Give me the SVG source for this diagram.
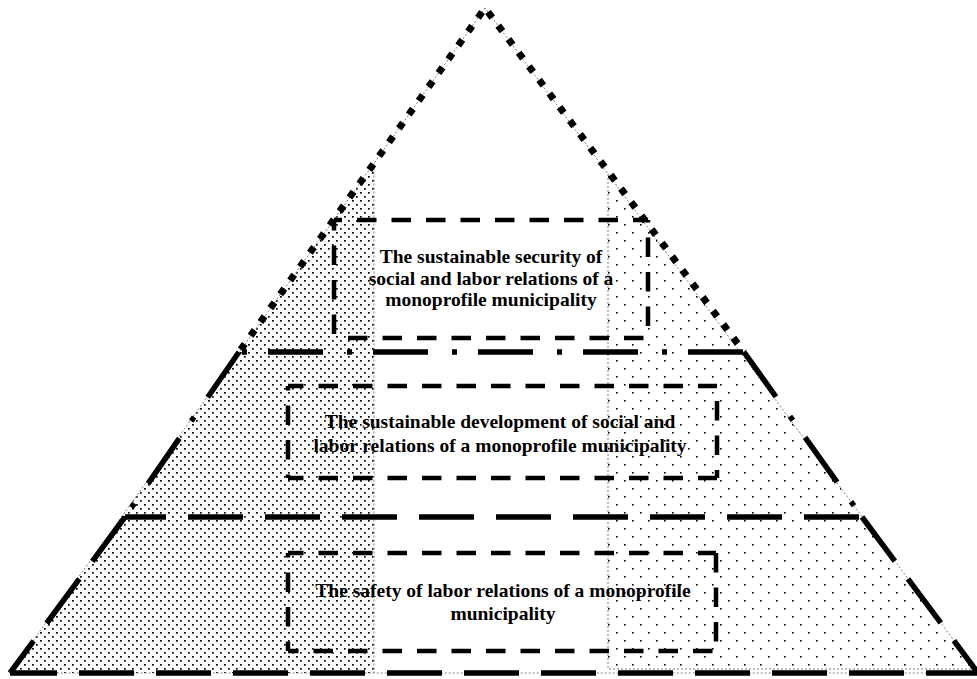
<svg xmlns="http://www.w3.org/2000/svg" width="977" height="679" viewBox="0 0 977 679">
<style>
.thin{fill:none;stroke:#808080;stroke-width:1;stroke-dasharray:2 2}
.sq{fill:none;stroke:#000;stroke-width:7;stroke-dasharray:7 10;stroke-dashoffset:12}
.dd{fill:none;stroke:#000;stroke-width:5.5;stroke-dasharray:55 24 5 21}
.ld{fill:none;stroke:#000;stroke-width:5.5;stroke-dasharray:55 22}
.bx{fill:none;stroke:#000;stroke-width:4.5;stroke-dasharray:19.5 15}
.t{font-family:"Liberation Serif","Times New Roman",serif;font-weight:bold;font-size:19.5px;text-anchor:middle;fill:#000}
</style>
<defs>
<pattern id="dense" width="8" height="8" patternUnits="userSpaceOnUse">
<rect x="0" y="0" width="1.7" height="1.7" fill="#000"/>
<rect x="4" y="4" width="1.7" height="1.7" fill="#000"/>
</pattern>
<pattern id="sparse" width="16" height="16" patternUnits="userSpaceOnUse">
<rect x="0" y="0" width="1.6" height="1.6" fill="#000"/>
<rect x="8" y="8" width="1.6" height="1.6" fill="#000"/>
</pattern>
</defs>
<rect width="977" height="679" fill="#fff"/>
<g id="pyramid">
<polygon points="374,163.5 374,673 10,673" fill="url(#dense)"/>
<polygon points="608,174 608,669 975,669" fill="url(#sparse)"/>
<polyline class="thin" points="374,163.5 374,673"/>
<polyline class="thin" points="608,174 608,669 975,669"/>
<polygon class="thin" points="485,8 10,673 978,673"/>
<line class="sq" x1="485" y1="8" x2="239" y2="352"/>
<line class="sq" x1="485" y1="8" x2="744" y2="352"/>
<line class="dd" x1="239" y1="352" x2="125" y2="517"/>
<line class="dd" x1="744" y1="352" x2="862" y2="517"/>
<line class="dd" x1="239" y1="352" x2="744" y2="352" style="stroke-dashoffset:76"/>
<line class="ld" x1="125" y1="517" x2="862" y2="517" style="stroke-dashoffset:14"/>
<line class="ld" x1="125" y1="517" x2="10" y2="673"/>
<line class="ld" x1="862" y1="517" x2="978" y2="673"/>
<line class="ld" x1="10" y1="673" x2="978" y2="673" style="stroke-dashoffset:8"/>
</g>
<g id="connectors"></g>
<g id="level-top">
<line class="bx" x1="334" y1="220" x2="648" y2="220" style="stroke-dashoffset:11.5"/>
<line class="bx" x1="648" y1="220" x2="648" y2="338" style="stroke-dashoffset:17"/>
<line class="bx" x1="334" y1="338" x2="648" y2="338" style="stroke-dashoffset:20.5"/>
<line class="bx" x1="334" y1="220" x2="334" y2="338" style="stroke-dashoffset:9"/>
<text class="t" x="491" y="263">The sustainable security of</text>
<text class="t" x="491" y="285">social and labor relations of a</text>
<text class="t" x="491" y="306">monoprofile municipality</text>
</g>
<g id="level-middle">
<line class="bx" x1="288" y1="386" x2="717" y2="386" style="stroke-dashoffset:4"/>
<line class="bx" x1="717" y1="386" x2="717" y2="478" style="stroke-dashoffset:19.5"/>
<line class="bx" x1="288" y1="478" x2="717" y2="478" style="stroke-dashoffset:4"/>
<line class="bx" x1="288" y1="386" x2="288" y2="478" style="stroke-dashoffset:15"/>
<text class="t" x="500" y="428">The sustainable development of social and</text>
<text class="t" x="500" y="451.5">labor relations of a monoprofile municipality</text>
</g>
<g id="level-bottom">
<line class="bx" x1="288" y1="553" x2="716" y2="553" style="stroke-dashoffset:4"/>
<line class="bx" x1="716" y1="553" x2="716" y2="651" style="stroke-dashoffset:0"/>
<line class="bx" x1="288" y1="651" x2="716" y2="651" style="stroke-dashoffset:9"/>
<line class="bx" x1="288" y1="553" x2="288" y2="651" style="stroke-dashoffset:15"/>
<text class="t" x="503" y="597">The safety of labor relations of a monoprofile</text>
<text class="t" x="503" y="620">municipality</text>
</g>
</svg>
